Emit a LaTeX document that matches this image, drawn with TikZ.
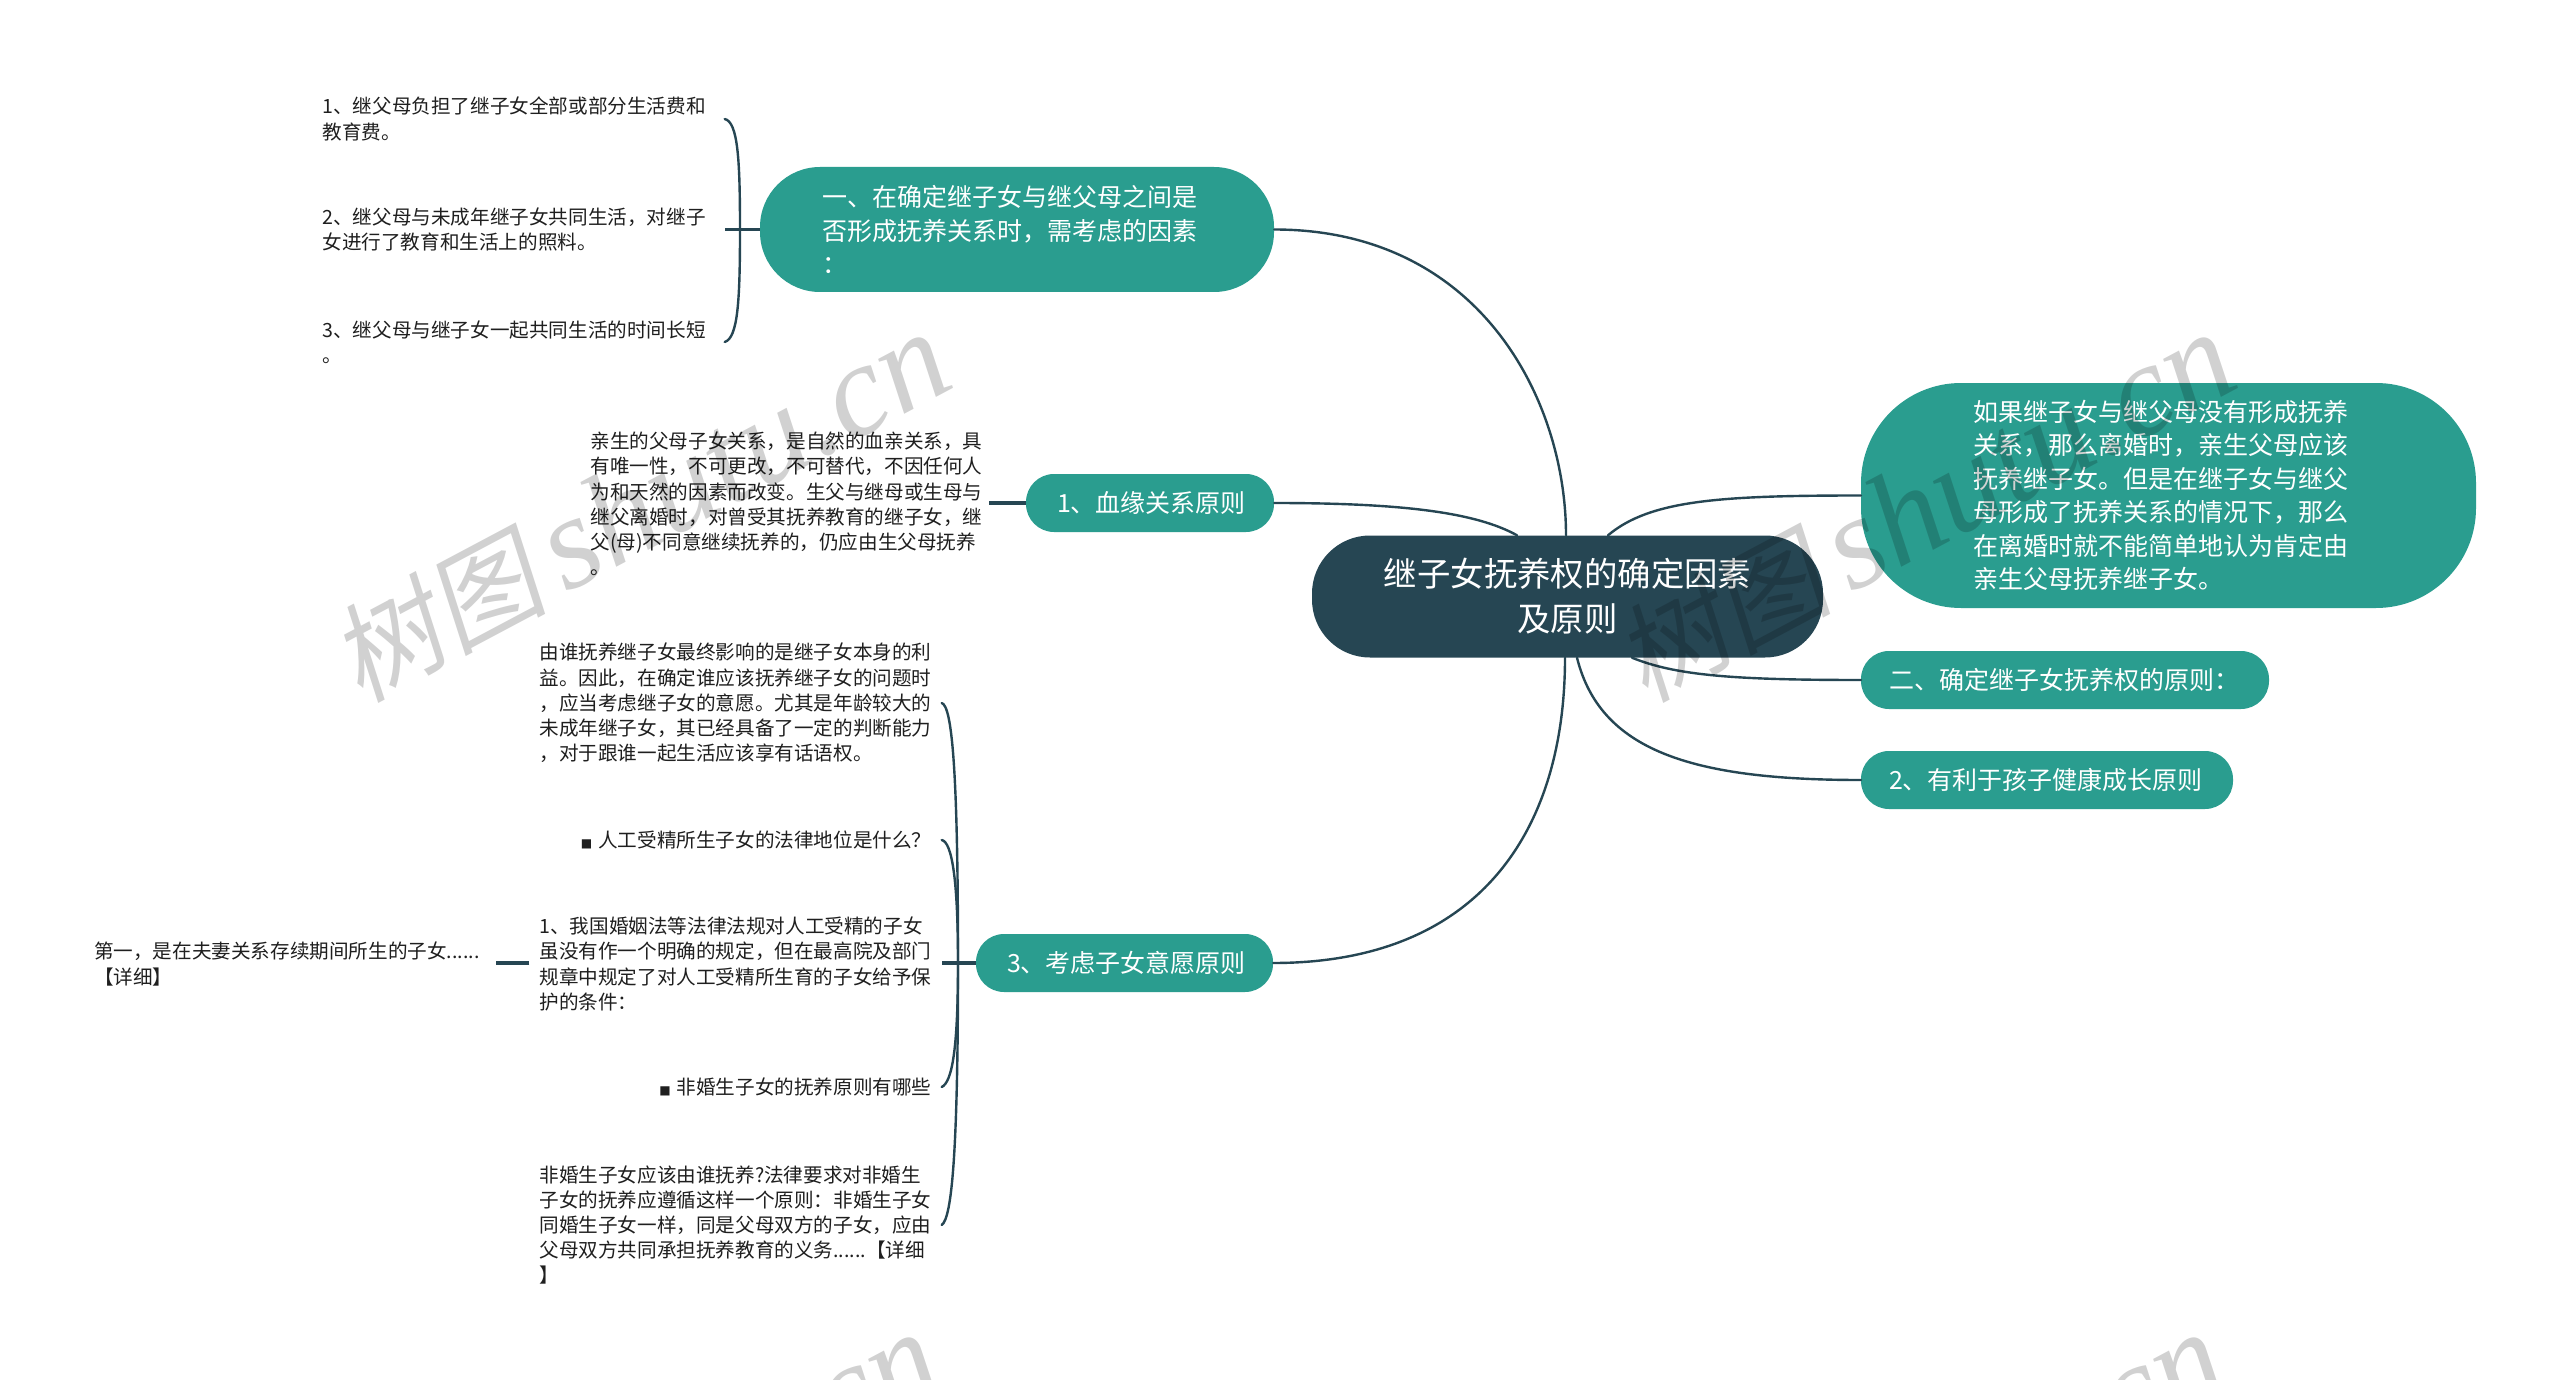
\documentclass[tikz,border=0pt]{standalone}
\usepackage{fontspec}
\setmainfont{Noto Sans CJK SC}
\newfontfamily\wmlatin{Liberation Serif}
\newfontfamily\wmcjk[FakeSlant=0.18]{Noto Sans CJK SC}
\newfontfamily\squarefont{DejaVu Sans}
\definecolor{deep}{HTML}{264653}
\definecolor{teal2}{HTML}{2A9D8F}
\newcommand{\sq}{{\squarefont\fontsize{12}{12}\selectfont ■}\hspace{6pt}}
\tikzset{
  rootbox/.style={draw=none,fill=deep,text=white,rounded corners=58pt,inner ysep=0pt,inner xsep=0pt,
    minimum width=511pt,minimum height=122pt,text width=400pt,align=center,font=\fontsize{33.4}{45}\selectfont},
  topic/.style={draw=none,fill=teal2,text=white,inner ysep=0pt,align=flush left,font=\fontsize{25}{33.5}\selectfont},
  leaf/.style={inner xsep=10pt,inner ysep=0pt,text width=392pt,align=flush left,text=black!88,font=\fontsize{19.6}{25.2}\selectfont},
  leafr/.style={leaf,align=flush right},
  link/.style={draw=deep,line width=2.4pt,line cap=round},
  stub/.style={draw=deep,line width=3.2pt},
  mark text/.style={text=black,opacity=.18,rotate=28,inner sep=0pt}
}
\begin{document}
\begin{tikzpicture}[x=1pt,y=-1pt]
\useasboundingbox (0,0) rectangle (2560,1380);
\fill[white] (0,0) rectangle (2560,1380);

\node[rootbox] (root) at (1567.5,596.5) {继子女抚养权的确定因素\\及原则};

\node[topic,rounded corners=60pt,inner xsep=62pt,text width=390pt,minimum height=125pt] (n1) at (1017,229.5) {一、在确定继子女与继父母之间是\\否形成抚养关系时，需考虑的因素\\：};
\node[topic,rounded corners=28pt,inner xsep=31pt,text width=186pt,minimum height=58pt] (n2) at (1150,503) {1、血缘关系原则};
\node[topic,rounded corners=28pt,inner xsep=31pt,text width=235pt,minimum height=58pt] (n3) at (1124.5,963) {3、考虑子女意愿原则};
\node[topic,rounded corners=100pt,inner xsep=112.5pt,text width=390pt,minimum height=225pt] (r1) at (2168.5,495.5) {如果继子女与继父母没有形成抚养\\关系，那么离婚时，亲生父母应该\\抚养继子女。但是在继子女与继父\\母形成了抚养关系的情况下，那么\\在离婚时就不能简单地认为肯定由\\亲生父母抚养继子女。};
\node[topic,rounded corners=28pt,inner xsep=28pt,text width=352pt,minimum height=58pt] (r2) at (2065,680) {二、确定继子女抚养权的原则：};
\node[topic,rounded corners=28pt,inner xsep=28pt,text width=316pt,minimum height=58pt] (r3) at (2047,780) {2、有利于孩子健康成长原则};

\node[leaf] (a1) at (518.5,119) {1、继父母负担了继子女全部或部分生活费和\\教育费。};
\node[leaf] (a2) at (518.5,229.5) {2、继父母与未成年继子女共同生活，对继子\\女进行了教育和生活上的照料。};
\node[leaf] (a3) at (518.5,342) {3、继父母与继子女一起共同生活的时间长短\\。};

\node[leaf,inner xsep=6pt] (b1) at (786.5,504) {亲生的父母子女关系，是自然的血亲关系，具\\有唯一性，不可更改，不可替代，不因任何人\\为和天然的因素而改变。生父与继母或生母与\\继父离婚时，对曾受其抚养教育的继子女，继\\父(母)不同意继续抚养的，仍应由生父母抚养\\。};

\node[leaf] (c1) at (735.5,703) {由谁抚养继子女最终影响的是继子女本身的利\\益。因此，在确定谁应该抚养继子女的问题时\\，应当考虑继子女的意愿。尤其是年龄较大的\\未成年继子女，其已经具备了一定的判断能力\\，对于跟谁一起生活应该享有话语权。};
\node[leafr] (c2) at (735.5,840) {\sq 人工受精所生子女的法律地位是什么？};
\node[leaf] (c3) at (735.5,964) {1、我国婚姻法等法律法规对人工受精的子女\\虽没有作一个明确的规定，但在最高院及部门\\规章中规定了对人工受精所生育的子女给予保\\护的条件：};
\node[leafr] (c4) at (735.5,1087) {\sq 非婚生子女的抚养原则有哪些};
\node[leaf] (c5) at (735.5,1225) {非婚生子女应该由谁抚养?法律要求对非婚生\\子女的抚养应遵循这样一个原则：非婚生子女\\同婚生子女一样，同是父母双方的子女，应由\\父母双方共同承担抚养教育的义务......【详细\\】};
\node[leaf] (d1) at (290,964) {第一，是在夫妻关系存续期间所生的子女......\\【详细】};

\coordinate (ba) at (740,229.5);
\coordinate (bc) at (958,963);

% root branches
\draw[link] (n1.east) .. controls (1480,229.5) and (1566,400) .. ([xshift=-1.5pt]root.north);
\draw[link] (n2.east) .. controls (1400,503) and (1475,512) .. ([xshift=-50.5pt]root.north);
\draw[link] (n3.east) .. controls (1480,963) and (1565,830) .. ([xshift=-2.5pt]root.south);
\draw[link] (r1.west) .. controls (1720,495.5) and (1650,500) .. ([xshift=40.5pt]root.north);
\draw[link] (r2.west) .. controls (1730,680) and (1675,675) .. ([xshift=64.5pt]root.south);
\draw[link] (r3.west) .. controls (1690,780) and (1600,750) .. ([xshift=9.5pt]root.south);

% brackets
\draw[stub] (n1.west) -- (n1.west -| a2.east);
\draw[link] (a1.east) .. controls (738,122) and (740,160) .. (ba);
\draw[link] (a3.east) .. controls (738,338) and (740,300) .. (ba);
\draw[stub] (n2.west) -- (n2.west -| b1.east);
\draw[stub] (n3.west) -- (n3.west -| c3.east);
\draw[link] (c1.east) .. controls (952,706) and (958,770) .. (bc);
\draw[link] (c2.east) .. controls (952,842) and (958,880) .. (bc);
\draw[link] (c4.east) .. controls (952,1082) and (958,1050) .. (bc);
\draw[link] (c5.east) .. controls (952,1218) and (958,1150) .. (bc);
\draw[stub] (n3.west -| c3.west) -- (n3.west -| d1.east);

% watermarks
\newcommand{\wmtext}{{\wmcjk\fontsize{108}{108}\selectfont 树图}\hspace{18pt}{\wmlatin\itshape\fontsize{132}{132}\selectfont shutu.cn}}
\node[mark text] (w1) at (640,508) {\wmtext};
\node[mark text] (w2) at (1925,508) {\wmtext};
\node[mark text] (w3) at (630,1508) {\wmtext};
\node[mark text] (w4) at (1915,1508) {\wmtext};
\end{tikzpicture}
\end{document}
